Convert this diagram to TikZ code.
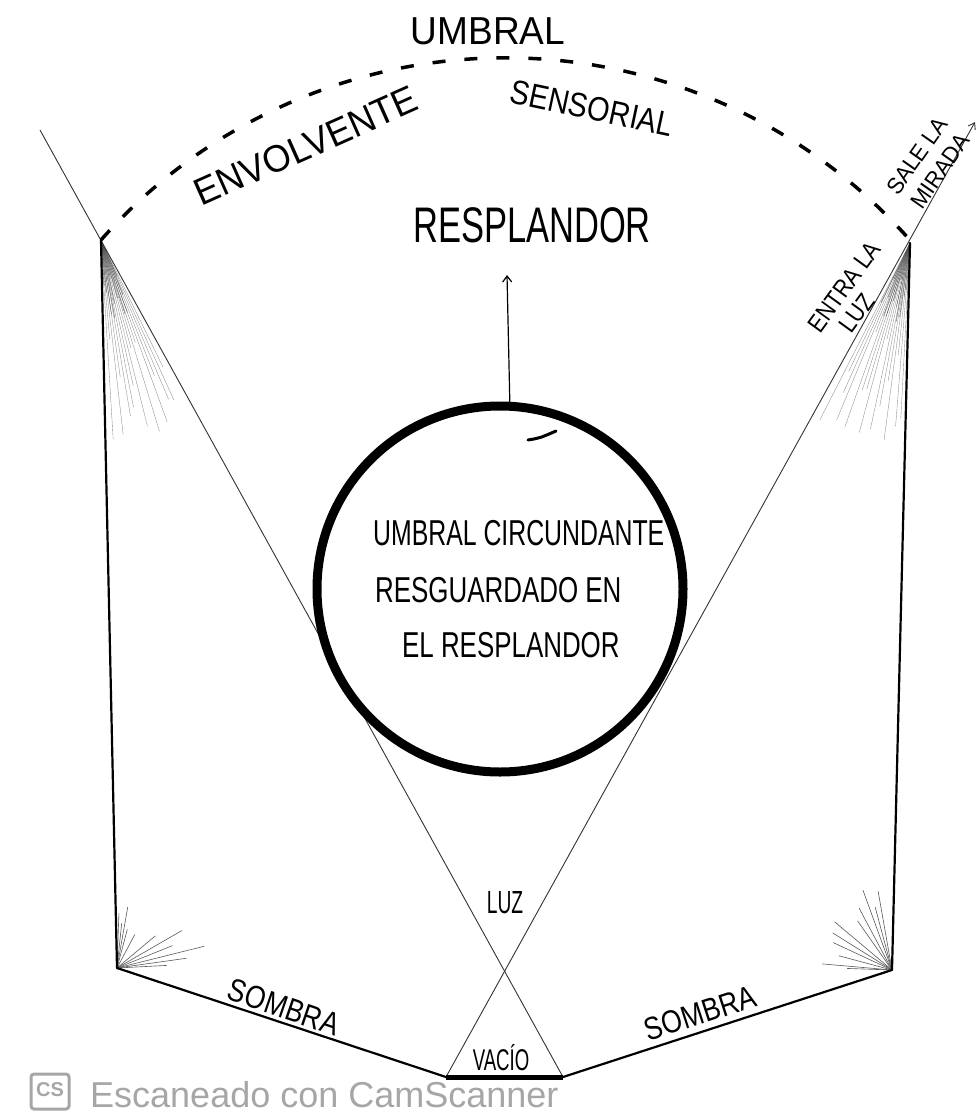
\documentclass[tikz,border=0pt]{standalone}
\usepackage{fontspec}
\setmainfont{Liberation Sans}
\usetikzlibrary{arrows.meta}
\tikzset{hw/.style={inner sep=0pt,align=center},
 fino/.style={line width=0.9pt,black!80},
 borde/.style={line width=2.2pt,line join=round,line cap=round},
 arco/.style={line width=3.5pt,dash pattern=on 13pt off 19pt},
 ar/.style={-{Straight Barb[length=6pt,width=9pt]},line width=1.2pt},
 rayo/.style={black!45,line width=0.35pt},
 marca/.style={black!35}}
\newcommand{\tam}[1]{\fontsize{#1}{#1}\selectfont}
\begin{document}
\begin{tikzpicture}[x=1pt,y=-1pt]
\useasboundingbox (0,0) rectangle (978,1113);
\coordinate (li) at (40,130);\coordinate (ld) at (975,122);
\coordinate (ai) at (101,240);\coordinate (ad) at (910,243);
\coordinate (bi) at (117,968);\coordinate (bd) at (892,970);
\coordinate (vi) at (446,1077);\coordinate (vd) at (563,1077);
% sombreado de las esquinas
\foreach \a [evaluate=\a as \l using {90+110*abs(sin(\a*53))}] in {64,65.5,...,87}{\draw[rayo] (ai)--++(\a:\l);}
\foreach \a [evaluate=\a as \l using {35+45*abs(sin(\a*71))}] in {66,68,...,86}{\draw[rayo,black!70] (ai)--++(\a:\l);}
\foreach \a [evaluate=\a as \l using {90+110*abs(sin(\a*47))}] in {93,94.5,...,117}{\draw[rayo] (ad)--++(\a:\l);}
\foreach \a [evaluate=\a as \l using {35+45*abs(sin(\a*71))}] in {94,96,...,116}{\draw[rayo,black!70] (ad)--++(\a:\l);}
\foreach \a/\l in {-88/55,-84/45,-80/62,-75/40,-62/38,-40/50,-30/75,-22/60,-14/90,-8/70,-3/50}{\draw[rayo,black!65,line width=0.6pt] (bi)--++(\a:\l);}
\foreach \a/\l in {-100/80,-105/65,-110/85,-118/70,-125/60,-140/75,-148/70,-155/65,-165/55,-175/70,-178/45}{\draw[rayo,black!65,line width=0.6pt] (bd)--++(\a:\l);}
% lineas
\draw[fino](li)--(vd);\draw[fino,-{Straight Barb[length=6pt,width=8pt]}](vi)--(ld);
\draw[borde](ai)--(bi)--(vi);\draw[borde](vd)--(bd)--(ad);\draw[line width=5pt](vi)--(vd);
\draw[arco](ai) arc[start angle=-138.5,end angle=-41.2,radius=540];
\node[circle,draw,fill=white,line width=9pt,minimum size=366pt,inner sep=0pt](nucleo) at (500,589){};
\draw[line width=3pt,line cap=round](528,440) .. controls (540,438) .. (556,431);
\coordinate (punta) at (507,275);\draw[ar](nucleo.87)--(punta);
% textos
\node[hw,font=\tam{39},xscale=0.95](umbral) at (488,31){UMBRAL};
\node[hw,font=\tam{38},rotate=24,xscale=0.95](env) at (306,146){ENVOLVENTE};
\node[hw,font=\tam{34},rotate=-12,xscale=0.85](sens) at (592,108){SENSORIAL};
\node[hw,font=\tam{50},xscale=0.69](resp) at (532,225){RESPLANDOR};
\node[hw,font=\tam{36},xscale=0.69,anchor=west](l1) at (373,533){UMBRAL CIRCUNDANTE};
\node[hw,font=\tam{36},xscale=0.72,anchor=west](l2) at (375,590){RESGUARDADO EN};
\node[hw,font=\tam{36},xscale=0.72,anchor=west](l3) at (402,645){EL RESPLANDOR};
\node[hw,font=\tam{25},rotate=54,xscale=0.86](entra) at (844,287){ENTRA LA};
\node[hw,font=\tam{25},rotate=54,xscale=0.86](luzb) at (857,313){LUZ};
\node[hw,font=\tam{23},rotate=55,xscale=0.95](sale) at (917,156){SALE LA};
\node[hw,font=\tam{23},rotate=55,xscale=0.95](mirada) at (940,171){MIRADA};
\node[hw,font=\tam{32},xscale=0.6](luz) at (505,903){LUZ};
\node[hw,font=\tam{30},xscale=0.62,anchor=base](vacio) at (501,1070){VACÍO};
\node[hw,font=\tam{32},rotate=-19,xscale=0.83](somi) at (284,1007){SOMBRA};
\node[hw,font=\tam{32},rotate=18,xscale=0.83](somd) at (700,1013){SOMBRA};
% marca del escaner
\draw[marca,line width=3pt,rounded corners=3pt](31,1074) rectangle (69,1109);
\node[hw,marca,font=\bfseries\tam{20}](cs) at (50,1090){CS};
\node[hw,marca,font=\tam{36},anchor=base west](escaner) at (90,1107){Escaneado con CamScanner};
\end{tikzpicture}
\end{document}
